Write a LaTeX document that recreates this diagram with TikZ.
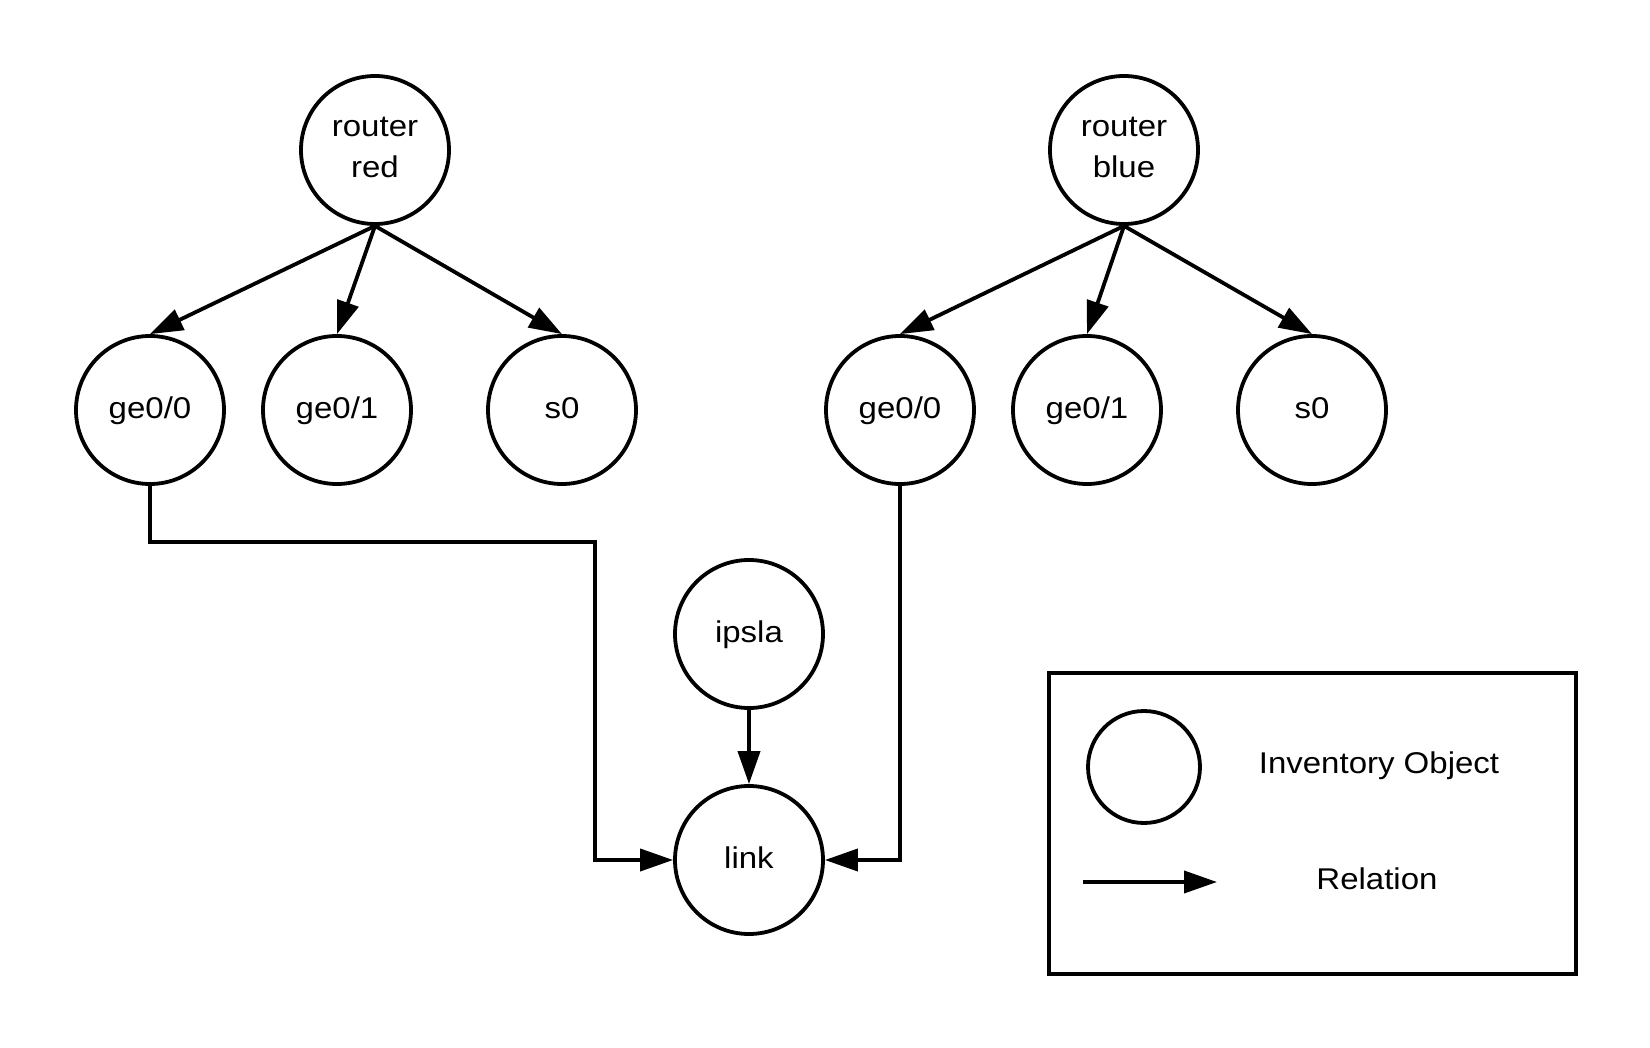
\documentclass[tikz,border=0pt]{standalone}
\usepackage{fontspec}
\setmainfont{Liberation Sans}[FakeStretch=1.1]
\usetikzlibrary{arrows.meta}
\begin{document}
\begin{tikzpicture}[x=1pt,y=-1pt,
  font=\fontsize{30}{40.5}\selectfont,
  obj/.style={circle,draw,line width=3.8pt,minimum size=148pt,inner sep=0pt,
    text height=17pt,text depth=0pt,align=center},
  twoline/.style={text height=55pt,text depth=0pt},
  rel/.style={line width=3.8pt,-{Triangle[length=33pt,width=22pt]}},
]
\fill[white] (0,0) rectangle (1650,1048);
\useasboundingbox (0,0) rectangle (1650,1048);

% routers
\node[obj,twoline] (rr) at (375,150) {router\\red};
\node[obj,twoline] (rb) at (1124,150) {router\\blue};

% interfaces of router red
\node[obj] (r00) at (150,410) {ge0/0};
\node[obj] (r01) at (337,410) {ge0/1};
\node[obj] (rs0) at (562,410) {s0};

% interfaces of router blue
\node[obj] (b00) at (900,410) {ge0/0};
\node[obj] (b01) at (1087,410) {ge0/1};
\node[obj] (bs0) at (1312,410) {s0};

% link and ip sla
\node[obj] (ipsla) at (749,634) {ipsla};
\node[obj] (link) at (749,860) {link};

% router -> interface relations
\draw[rel] (rr.south) -- (r00.north);
\draw[rel] (rr.south) -- (r01.north);
\draw[rel] (rr.south) -- (rs0.north);
\draw[rel] (rb.south) -- (b00.north);
\draw[rel] (rb.south) -- (b01.north);
\draw[rel] (rb.south) -- (bs0.north);

% link relations
\coordinate (bendL) at (595,542);
\draw[rel] (r00.south) |- (bendL) |- (link.west);
\draw[rel] (b00.south) |- (link.east);
\draw[rel] (ipsla.south) -- (link.north);

% legend
\node[rectangle,draw,line width=3.8pt,minimum width=527pt,minimum height=301pt,inner sep=0pt]
  (legend) at (1312.5,823.5) {};
\node[circle,draw,line width=3.8pt,minimum size=112pt,inner sep=0pt] (keyobj) at (1144,767) {};
\node[anchor=base] (keyobjtext) at (1379,773) {Inventory Object};
\coordinate (keya) at (1083,882);
\coordinate (keyb) at (1217,882);
\draw[rel] (keya) -- (keyb);
\node[anchor=base] (keyreltext) at (1377,889) {Relation};
\end{tikzpicture}
\end{document}
